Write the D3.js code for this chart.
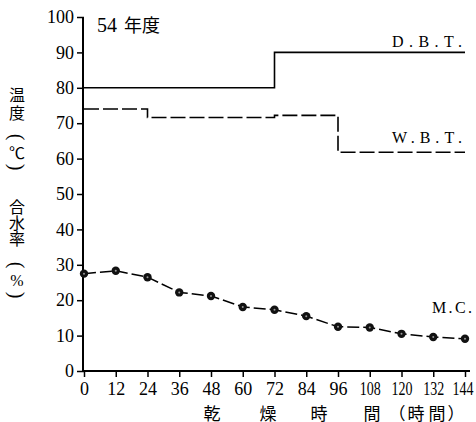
<!DOCTYPE html>
<html>
<head>
<meta charset="utf-8">
<script src="https://cdn.jsdelivr.net/npm/d3@7"></script>
<style>
  body { margin: 0; background: #fff; }
  svg { display: block; }
  .tick text { font-family: 'Liberation Serif'; font-size: 18px; fill: #000; }
  .tick line { stroke: #000; stroke-width: 1.5px; }
</style>
</head>
<body>
<div id="chart"></div>
<script>
// drying time (hours) and readings
var hours = [0, 12, 24, 36, 48, 60, 72, 84, 96, 108, 120, 132, 144];
var mcValues = [27.5, 28.3, 26.5, 22.2, 21.2, 18.1, 17.3, 15.5, 12.5, 12.3, 10.5, 9.6, 9.1];

// step series: time the value starts, value
var dbtTimes = [0, 72, 144];
var dbtValues = [80, 90, 90];
var wbtTimes = [0, 24, 72, 96, 144];
var wbtValues = [74, 71.6, 72.2, 61.8, 61.8];

var yTicks = [0, 10, 20, 30, 40, 50, 60, 70, 80, 90, 100];

var w = 476, h = 422;

var x = d3.scaleLinear().domain([0, 144]).range([84, 465]);
var y = d3.scaleLinear().domain([0, 100]).range([371, 17]);

var svg = d3.select("#chart").append("svg")
    .attr("width", w)
    .attr("height", h);

// axes
var yAxis = d3.axisLeft(y).tickValues(yTicks).tickSize(7).tickPadding(3).tickSizeOuter(0);
var gy = svg.append("g").attr("transform", "translate(" + x(0) + ",0)").call(yAxis);
gy.select(".domain").remove();
gy.attr("font-family", null);

var xAxis = d3.axisBottom(x).tickValues(hours).tickSize(6).tickPadding(5).tickSizeOuter(0);
var gx = svg.append("g").attr("transform", "translate(0," + y(0) + ")").call(xAxis);
gx.select(".domain").remove();
gx.attr("font-family", null);
gx.selectAll(".tick text")
    .attr("dy", "0.71em")
    .each(function(d) {
        // three digit labels are squeezed in the original
        if (d >= 100) d3.select(this).attr("textLength", 21).attr("lengthAdjust", "spacingAndGlyphs");
        if (d === 144) d3.select(this).attr("text-anchor", "end").attr("x", 8);
    });

svg.append("line")
    .attr("x1", x(0) - 1).attr("x2", x(0) - 1)
    .attr("y1", y(100)).attr("y2", y(0) + 1)
    .attr("stroke", "#000").attr("stroke-width", 2);
svg.append("line")
    .attr("x1", x(0) - 2).attr("x2", 470)
    .attr("y1", y(0)).attr("y2", y(0))
    .attr("stroke", "#000").attr("stroke-width", 2);

// step lines
var step = d3.line()
    .x(function(d) { return x(d[0]); })
    .y(function(d) { return y(d[1]); })
    .curve(d3.curveStepAfter);

svg.append("path")
    .datum(d3.zip(dbtTimes, dbtValues))
    .attr("d", step)
    .attr("fill", "none")
    .attr("stroke", "#000")
    .attr("stroke-width", 1.6);

svg.append("path")
    .datum(d3.zip(wbtTimes, wbtValues))
    .attr("d", step)
    .attr("fill", "none")
    .attr("stroke", "#000")
    .attr("stroke-width", 1.6)
    .attr("stroke-dasharray", "15,4");

// moisture content
var mcLine = d3.line()
    .x(function(d) { return x(d[0]); })
    .y(function(d) { return y(d[1]); });

var mcData = d3.zip(hours, mcValues);

svg.append("path")
    .datum(mcData)
    .attr("d", mcLine)
    .attr("fill", "none")
    .attr("stroke", "#000")
    .attr("stroke-width", 1.5)
    .attr("stroke-dasharray", "12,4");

svg.selectAll("circle.mc")
    .data(mcData)
    .enter()
    .append("circle")
    .attr("class", "mc")
    .attr("cx", function(d) { return x(d[0]); })
    .attr("cy", function(d) { return y(d[1]); })
    .attr("r", 4.2)
    .attr("fill", "#111");

svg.selectAll("circle.mcdot")
    .data(mcData)
    .enter()
    .append("circle")
    .attr("class", "mcdot")
    .attr("cx", function(d) { return x(d[0]); })
    .attr("cy", function(d) { return y(d[1]); })
    .attr("r", 1)
    .attr("fill", "#999");

// labels
var serif = "'Liberation Serif'";
var cjk = "'Noto Sans CJK JP'";

svg.append("text")
    .attr("x", 97).attr("y", 32)
    .style("font-family", serif).style("font-size", "20px")
    .text("54");
svg.append("text")
    .attr("x", 124).attr("y", 32)
    .style("font-family", cjk).style("font-size", "18px")
    .text("年度");

svg.append("text")
    .attr("x", 392).attr("y", 47)
    .attr("textLength", 70).attr("lengthAdjust", "spacing")
    .style("font-family", serif).style("font-size", "16px")
    .text("D.B.T.");
svg.append("text")
    .attr("x", 392).attr("y", 143)
    .attr("textLength", 70).attr("lengthAdjust", "spacing")
    .style("font-family", serif).style("font-size", "16px")
    .text("W.B.T.");
svg.append("text")
    .attr("x", 432).attr("y", 313)
    .attr("textLength", 40).attr("lengthAdjust", "spacing")
    .style("font-family", serif).style("font-size", "16px")
    .text("M.C.");

// vertical y label: characters, centre y, rotate
var yLabel = [["温", 94, 0], ["度", 112, 0], ["(", 137, 90], ["℃", 152, 0], [")", 167, 90],
              ["合", 206, 0], ["水", 222, 0], ["率", 238, 0], ["(", 265, 90], ["%", 280, 0], [")", 295, 90]];
svg.selectAll("text.ylab")
    .data(yLabel)
    .enter()
    .append("text")
    .attr("class", "ylab")
    .attr("text-anchor", "middle")
    .attr("dominant-baseline", "central")
    .attr("transform", function(d) { return "translate(17," + d[1] + ") rotate(" + d[2] + ")"; })
    .style("font-family", function(d) { return /[()%]/.test(d[0]) ? serif : cjk; })
    .style("font-size", function(d) { return /[()]/.test(d[0]) ? "20px" : "16px"; })
    .text(function(d) { return d[0]; });

// x label
var xLabel = [["乾", 212], ["燥", 268], ["時", 319], ["間", 372], ["（", 397], ["時", 416], ["間", 437], ["）", 456]];
svg.selectAll("text.xlab")
    .data(xLabel)
    .enter()
    .append("text")
    .attr("class", "xlab")
    .attr("x", function(d) { return d[1]; })
    .attr("y", 412)
    .attr("text-anchor", "middle")
    .attr("dominant-baseline", "central")
    .style("font-family", cjk)
    .style("font-size", "17px")
    .text(function(d) { return d[0]; });
</script>
</body>
</html>
